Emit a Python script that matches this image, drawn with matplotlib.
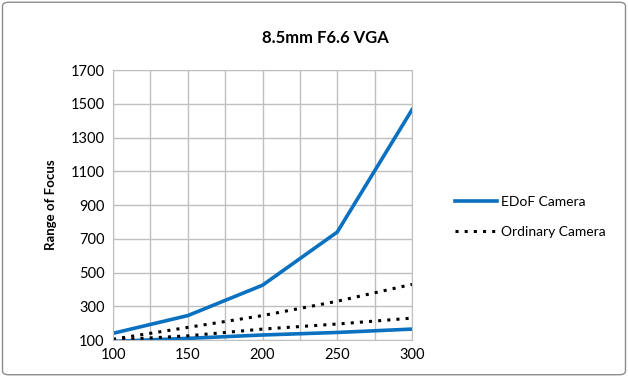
import matplotlib.pyplot as plt
from matplotlib.patches import FancyBboxPatch

# Distances and focus range values
distance = [100, 150, 200, 250, 300]
edof_upper = [140, 245, 425, 740, 1465]
edof_lower = [92, 110, 130, 145, 165]
ordinary_upper = [105, 175, 245, 330, 430]
ordinary_lower = [100, 125, 165, 195, 230]

plt.rcParams['font.family'] = ['Lato', 'DejaVu Sans']

fig = plt.figure(figsize=(6.28, 3.77), dpi=100)
ax = fig.add_axes([0.18, 0.098, 0.476, 0.716])

blue = '#0a70c0'
ax.plot(distance, edof_upper, color=blue, lw=2.6, label='EDoF Camera')
ax.plot(distance, edof_lower, color=blue, lw=2.6)
ax.plot(distance, ordinary_upper, color='black', lw=2.2, ls=(0, (1, 2)), label='Ordinary Camera')
ax.plot(distance, ordinary_lower, color='black', lw=2.2, ls=(0, (1, 2)))

ax.set_xlim(100, 300)
ax.set_ylim(100, 1700)
ax.set_xticks(range(100, 301, 50))
ax.set_xticks(range(100, 301, 25), minor=True)
ax.set_yticks(range(100, 1701, 200))
ax.grid(True, which='both', color='#bfbfbf', lw=1)
ax.tick_params(which='both', length=0, labelsize=10.5, pad=6)
for s in ax.spines.values():
    s.set_color('#bfbfbf')
ax.set_ylabel('Range of Focus', fontsize=9.5, fontweight='bold', labelpad=10)

fig.text(0.518, 0.9, '8.5mm F6.6 VGA', ha='center', va='center', fontsize=12, fontweight='bold')
fig.legend(loc='center left', bbox_to_anchor=(0.705, 0.425), frameon=False,
           fontsize=10, handlelength=3, labelspacing=1.3, handletextpad=0.3)

fig.patches.append(FancyBboxPatch((0.004, 0.006), 0.992, 0.988, boxstyle='round,pad=0,rounding_size=0.01',
                                  transform=fig.transFigure, fill=False, ec='#8c8c8c', lw=1))

fig.savefig('out.png', dpi=100)
